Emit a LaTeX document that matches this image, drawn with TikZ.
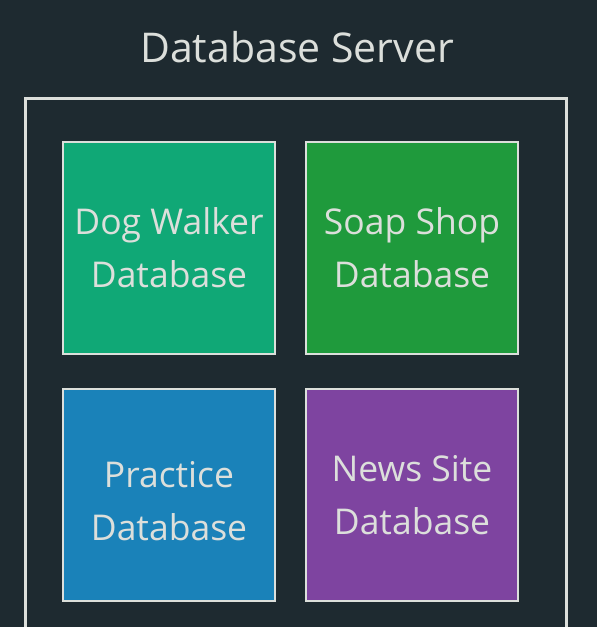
\documentclass[tikz,border=0pt]{standalone}
\usepackage{fontspec}
\setmainfont{Open Sans}
\usetikzlibrary{positioning}
\definecolor{ServerBg}{HTML}{1E2A30}
\definecolor{EdgeGrey}{HTML}{DCDFDB}
\definecolor{DogGreen}{HTML}{10A876}
\definecolor{SoapGreen}{HTML}{1F9A3C}
\definecolor{PracticeBlue}{HTML}{1A82B9}
\definecolor{NewsPurple}{HTML}{7E44A0}
\tikzset{
  dbbox/.style={draw=EdgeGrey, line width=2pt, minimum width=212pt,
    minimum height=212pt, outer sep=0pt, inner sep=0pt, align=center,
    text=EdgeGrey, font=\fontsize{35.5}{53}\selectfont},
  server/.style={draw=EdgeGrey, line width=3pt},
  title/.style={text=EdgeGrey, font=\fontsize{41}{50}\selectfont, anchor=base},
}

\begin{document}
\begin{tikzpicture}[x=1pt, y=1pt, node distance=35pt and 31pt]
    \useasboundingbox[fill=ServerBg] (0,0) rectangle (597,-627);
    \node[title] (head) at (297,-62) {Database Server};
    \draw[server] (25.5,-98.5) rectangle (566.5,-660);
    \node[dbbox, fill=DogGreen] (dog) at (169,-248) {Dog Walker\\Database};
    \node[dbbox, fill=SoapGreen, right=of dog] (soap) {Soap Shop\\Database};
    \node[dbbox, fill=PracticeBlue, below=of dog] (practice) {\rule{0pt}{38pt}Practice\\Database};
    \node[dbbox, fill=NewsPurple, right=of practice] (news) {News Site\\Database};
  \end{tikzpicture}
\end{document}
